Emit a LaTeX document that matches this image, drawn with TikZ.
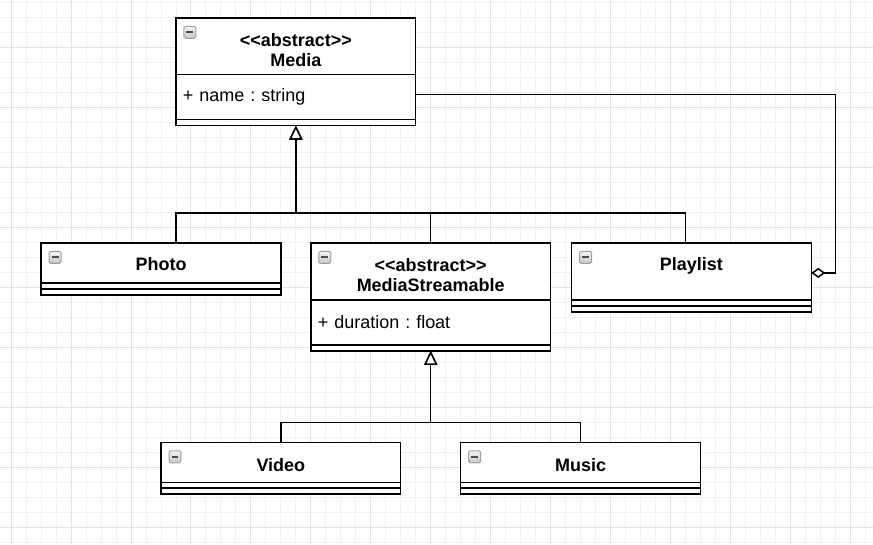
\documentclass[tikz,border=0pt]{standalone}
\usepackage{fontspec}
\usepackage{tikz}
\usetikzlibrary{positioning,arrows.meta}
\newfontfamily\umlfont{Liberation Sans}
\frenchspacing
\newcommand\foldicon[1]{\draw[line width=1pt,rounded corners=1.5pt,draw=gray!75,top color=gray!8,bottom color=gray!45]([shift={(8,8.5)}]#1.north west)rectangle++(12,12);
\draw[line width=2pt,black!70]([shift={(10.5,14.5)}]#1.north west)--++(7,0);}

\begin{document}
\begin{tikzpicture}[x=1pt,y=-1pt,font=\umlfont\fontsize{18}{20}\selectfont,line width=1.5pt]
% Styles for the grid, the class boxes and the arrows
\tikzstyle{minor grid}=[line width=1pt,gray!10];
\tikzstyle{major grid}=[line width=1pt,gray!22];
\tikzstyle{head}=[draw,fill=white,minimum width=240pt,inner sep=0,outer sep=0];
\tikzstyle{part}=[head,minimum height=6pt];
\tikzstyle{attr}=[head,minimum height=45pt,text width=226pt,align=left];
\tikzstyle{title}=[inner sep=0,align=center,font=\umlfont\fontsize{18}{20}\selectfont\bfseries];
\tikzstyle{inherit}=[-{Triangle[fill=white,length=14pt,width=13pt]}];
\tikzstyle{aggregate}=[-{Diamond[fill=white,length=14pt,width=10pt]}];
% Background grid
\fill[white](0,0)rectangle(873,544);
\foreach \x in {10.7,25.7,...,873}\draw[minor grid](\x,0)--(\x,544);
\foreach \y in {2.3,17.3,...,544}\draw[minor grid](0,\y)--(873,\y);
\foreach \x in {10.7,70.7,...,873}\draw[major grid](\x,0)--(\x,544);
\foreach \y in {47.3,107.3,...,544}\draw[major grid](0,\y)--(873,\y);
\useasboundingbox(0,0)rectangle(873,544);
% Classes
\node[head,minimum height=57pt](media)at(295.7,45.8){};
\node[attr,below=0pt of media](media attr){+ name : string};
\node[part,below=0pt of media attr](media ops){};
\node[title,below=15pt of media.north](media title){<<abstract>>\\Media};
\foldicon{media}
\node[head,minimum height=40pt](photo)at(160.7,262.7){};
\node[part,below=0pt of photo](photo attr){};
\node[part,below=0pt of photo attr](photo ops){};
\node[title,below=14pt of photo.north](photo title){Photo};
\foldicon{photo}
\node[head,minimum height=57pt](stream)at(430.7,271.2){};
\node[attr,below=0pt of stream](stream attr){+ duration : float};
\node[part,below=0pt of stream attr](stream ops){};
\node[title,below=15pt of stream.north](stream title){<<abstract>>\\MediaStreamable};
\foldicon{stream}
\node[head,minimum height=57pt](playlist)at(691.7,271.2){};
\node[part,below=0pt of playlist](playlist attr){};
\node[part,below=0pt of playlist attr](playlist ops){};
\node[title,below=14pt of playlist.north](playlist title){Playlist};
\foldicon{playlist}
\node[head,minimum height=40pt](video)at(280.7,462.3){};
\node[part,below=0pt of video](video attr){};
\node[part,below=0pt of video attr](video ops){};
\node[title,below=15pt of video.north](video title){Video};
\foldicon{video}
\node[head,minimum height=40pt](music)at(580.7,462.3){};
\node[part,below=0pt of music](music attr){};
\node[part,below=0pt of music attr](music ops){};
\node[title,below=15pt of music.north](music title){Music};
\foldicon{music}
% Connectors
\coordinate(media bus)at(295.7,212.7);
\coordinate(stream bus)at(430.7,422.7);
\coordinate(agg corner)at(835.7,94);
\draw[inherit]([xshift=15pt]photo.north)|-(media bus)--(media ops.south);
\draw[inherit](stream.north)|-(media bus)--(media ops.south);
\draw[inherit]([xshift=-6pt]playlist.north)|-(media bus)--(media ops.south);
\draw[inherit](video.north)|-(stream bus)--(stream ops.south);
\draw[inherit](music.north)|-(stream bus)--(stream ops.south);
\draw[aggregate]([yshift=2.8pt]media attr.east)--(agg corner)|-([yshift=-1.5pt]playlist.east);
\end{tikzpicture}
\end{document}
